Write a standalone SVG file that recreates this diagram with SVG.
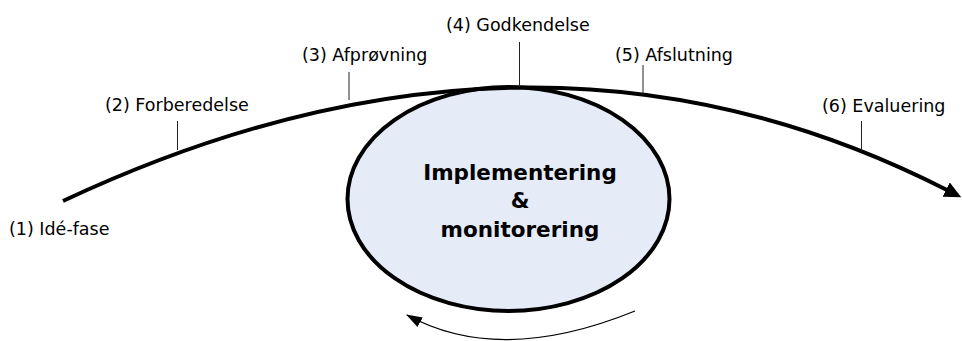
<svg xmlns="http://www.w3.org/2000/svg" width="962" height="341" viewBox="0 0 962 341">
  <defs>
    <style>
      .label { font-family: "DejaVu Sans", Verdana, sans-serif; font-size: 17.5px; fill: #000; }
      .core { font-family: "DejaVu Sans", Verdana, sans-serif; font-size: 21.5px; font-weight: bold; fill: #000; text-anchor: middle; }
      .tick { stroke: #222; stroke-width: 1; fill: none; }
      .track { stroke: #000; stroke-width: 4; fill: none; }
      .loop { stroke: #000; stroke-width: 1.3; fill: none; }
    </style>
    <marker id="bigHead" markerUnits="userSpaceOnUse" markerWidth="20" markerHeight="18" refX="1" refY="8" orient="auto">
      <path d="M0,0 L17,8 L0,16 Z" fill="#000"/>
    </marker>
    <marker id="smallHead" markerUnits="userSpaceOnUse" markerWidth="18" markerHeight="12" refX="15" refY="5.5" orient="auto">
      <path d="M0,0 L16,5.5 L0,11 Z" fill="#000"/>
    </marker>
  </defs>

  <!-- central phase -->
  <g id="implementering">
    <ellipse cx="508.5" cy="199" rx="161" ry="112" fill="#E5EBF7" stroke="#000" stroke-width="4"/>
    <text class="core" x="520" y="180">Implementering</text>
    <text class="core" x="520" y="208">&amp;</text>
    <text class="core" x="520" y="237">monitorering</text>
  </g>

  <!-- process track and feedback loop -->
  <g id="connectors">
    <path class="track" d="M63,201 Q535,-20.5 947,190" marker-end="url(#bigHead)"/>
    <path class="loop" d="M635,311 Q499.5,366 407,315" marker-end="url(#smallHead)"/>
  </g>

  <!-- phase labels with their tick marks -->
  <g id="phase1">
    <text class="label" x="9" y="235">(1) Idé-fase</text>
  </g>
  <g id="phase2">
    <line class="tick" x1="177.5" y1="121" x2="177.5" y2="150"/>
    <text class="label" x="105" y="111">(2) Forberedelse</text>
  </g>
  <g id="phase3">
    <line class="tick" x1="349" y1="72" x2="349" y2="100"/>
    <text class="label" x="302" y="61">(3) Afprøvning</text>
  </g>
  <g id="phase4">
    <line class="tick" x1="519.5" y1="42" x2="519.5" y2="87"/>
    <text class="label" x="446" y="30.5">(4) Godkendelse</text>
  </g>
  <g id="phase5">
    <line class="tick" x1="643" y1="65" x2="643" y2="95"/>
    <text class="label" x="615" y="61">(5) Afslutning</text>
  </g>
  <g id="phase6">
    <line class="tick" x1="861.5" y1="121" x2="861.5" y2="151"/>
    <text class="label" x="822" y="112">(6) Evaluering</text>
  </g>
</svg>
